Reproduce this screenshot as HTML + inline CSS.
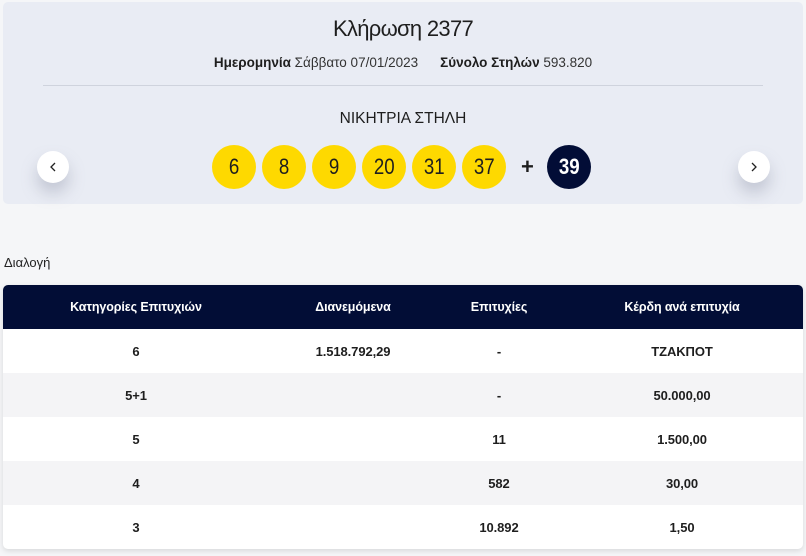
<!DOCTYPE html>
<html><head><meta charset="utf-8">
<style>
*{margin:0;padding:0;box-sizing:border-box}
html,body{width:806px;height:556px;overflow:hidden;background:#f5f6f8;font-family:"Liberation Sans","DejaVu Sans",sans-serif;color:#1c1c1c}
.panel{position:absolute;left:3px;top:2px;width:800px;height:202px;background:#e9ecf4;border-radius:5px}
.title{position:absolute;left:0;width:806px;top:16px;text-align:center;font-size:22px;letter-spacing:-0.7px;color:#1e1e1e}
.sub{position:absolute;left:0;width:806px;top:55px;text-align:center;font-size:13.5px;color:#333}
.sub b{font-weight:bold;color:#1e1e1e}
.sub .gap{display:inline-block;width:22px}
.line{position:absolute;left:43px;top:85px;width:720px;height:1px;background:#cfd3dd}
.win{position:absolute;left:0;width:806px;top:110px;text-align:center;font-size:15.5px;color:#1e1e1e}
.ball{position:absolute;top:145px;width:44px;height:44px;border-radius:50%;background:#fed900;text-align:center;line-height:44px;font-size:22px;color:#1e1e1e}
.ball span{display:inline-block;transform:scaleX(0.85)}
.ball.b{background:#020d36;color:#fff;font-weight:bold}
.plus{position:absolute;left:521px;top:155px;font-size:22px;font-weight:bold;color:#1e1e1e;line-height:24px}
.arrow{position:absolute;top:151px;width:32px;height:32px;border-radius:50%;background:#fff;box-shadow:0 10px 16px rgba(120,125,150,0.35)}
.arrow svg{position:absolute;left:12px;top:11px}
.dial{position:absolute;left:4px;top:255px;font-size:13px;color:#222}
.tbl{position:absolute;left:3px;top:285px;width:800px;height:264px;border-radius:5px;overflow:hidden;box-shadow:0 2px 6px rgba(0,0,0,0.12);background:#fff}
table{border-collapse:collapse;width:800px;table-layout:fixed}
td,th{height:44px;text-align:center;font-size:12.5px;font-weight:bold;letter-spacing:-0.1px}
th{background:#020d36;color:#fff}
tr.g td{background:#f4f4f6}
td{color:#1e1e1e;font-size:13px}
</style></head><body>
<div class="panel"></div>
<div class="title">Κλήρωση 2377</div>
<div class="sub"><b>Ημερομηνία</b> Σάββατο 07/01/2023<span class="gap"></span><b>Σύνολο Στηλών</b> 593.820</div>
<div class="line"></div>
<div class="win">ΝΙΚΗΤΡΙΑ ΣΤΗΛΗ</div>
<div class="arrow" style="left:37px"><svg width="8" height="10" viewBox="0 0 8 10"><path d="M6 1 L2 5 L6 9" fill="none" stroke="#222" stroke-width="1.3"/></svg></div>
<div class="arrow" style="left:738px"><svg width="8" height="10" viewBox="0 0 8 10"><path d="M2 1 L6 5 L2 9" fill="none" stroke="#222" stroke-width="1.3"/></svg></div>
<div class="ball" style="left:212px"><span>6</span></div>
<div class="ball" style="left:262px"><span>8</span></div>
<div class="ball" style="left:312px"><span>9</span></div>
<div class="ball" style="left:362px"><span>20</span></div>
<div class="ball" style="left:412px"><span>31</span></div>
<div class="ball" style="left:462px"><span>37</span></div>
<div class="plus">+</div>
<div class="ball b" style="left:547px"><span>39</span></div>
<div class="dial">Διαλογή</div>
<div class="tbl">
<table>
<colgroup><col style="width:266px"><col style="width:168px"><col style="width:124px"><col style="width:242px"></colgroup>
<tr><th>Κατηγορίες Επιτυχιών</th><th>Διανεμόμενα</th><th>Επιτυχίες</th><th>Κέρδη ανά επιτυχία</th></tr>
<tr><td>6</td><td>1.518.792,29</td><td>-</td><td>ΤΖΑΚΠΟΤ</td></tr>
<tr class="g"><td>5+1</td><td></td><td>-</td><td>50.000,00</td></tr>
<tr><td>5</td><td></td><td>11</td><td>1.500,00</td></tr>
<tr class="g"><td>4</td><td></td><td>582</td><td>30,00</td></tr>
<tr><td>3</td><td></td><td>10.892</td><td>1,50</td></tr>
</table>
</div>
</body></html>
